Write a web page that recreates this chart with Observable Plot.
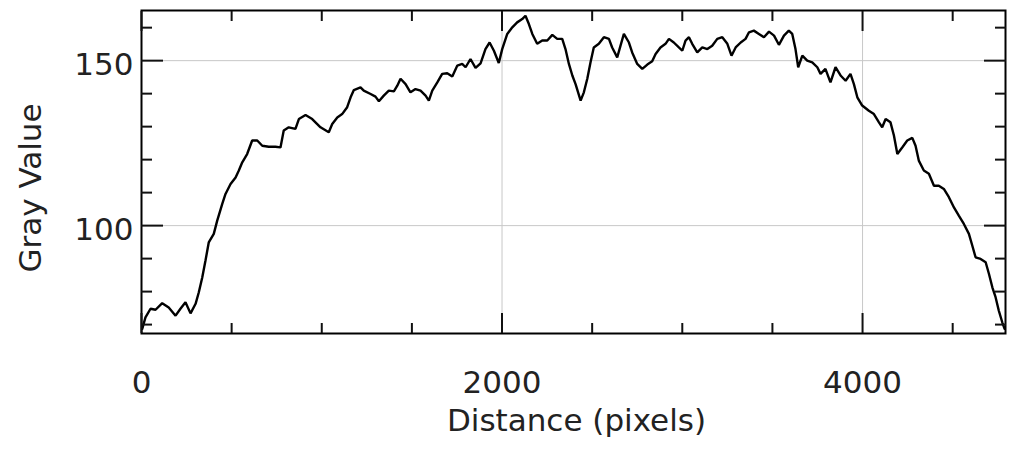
<!DOCTYPE html>
<html>
<head>
<meta charset="utf-8">
<script src="https://cdn.jsdelivr.net/npm/d3@7"></script>
<script src="https://cdn.jsdelivr.net/npm/@observablehq/plot@0.6"></script>
<style>
  html, body { margin: 0; padding: 0; background: #fff; }
</style>
</head>
<body>
<div id="chart"></div>
<script>
const distance = [4,22,50,78,115,151,189,216,244,272,300,318,337,355,373,401,420,448,466,494,522,540,559,586,614,642,670,706,743,771,789,817,854,873,910,947,993,1039,1058,1086,1113,1141,1160,1178,1215,1233,1271,1298,1317,1344,1372,1400,1419,1437,1465,1492,1520,1548,1576,1594,1613,1641,1668,1696,1724,1752,1779,1798,1825,1853,1881,1908,1931,1955,1982,2001,2029,2057,2084,2112,2130,2149,2168,2195,2223,2251,2279,2306,2334,2352,2371,2390,2408,2436,2454,2473,2491,2509,2537,2565,2593,2611,2639,2657,2676,2704,2722,2750,2778,2806,2833,2852,2879,2907,2926,2953,2981,3000,3018,3037,3055,3083,3111,3139,3166,3194,3222,3250,3273,3296,3324,3351,3370,3397,3425,3453,3481,3509,3536,3564,3591,3610,3628,3643,3666,3693,3721,3749,3767,3794,3822,3850,3878,3906,3933,3952,3971,3998,4035,4063,4091,4109,4128,4155,4174,4193,4220,4248,4276,4294,4312,4340,4368,4396,4423,4451,4479,4507,4534,4562,4590,4609,4627,4655,4683,4701,4720,4738,4756,4775,4788];
const gray = [68.7,72.2,74.8,74.5,76.5,75.2,72.7,74.8,76.8,73.4,76.3,79.8,84.3,89.4,94.9,97.5,101.5,106.6,109.6,112.6,114.6,116.7,119.2,121.7,125.8,125.8,124.2,123.9,123.9,123.7,128.8,129.8,129.3,132.3,133.5,132.3,129.8,128.3,130.8,132.8,133.8,135.9,138.9,141.1,141.9,140.9,139.9,139.1,137.7,139.4,140.9,140.7,142.4,144.5,142.9,140.4,141.4,140.9,139.4,137.9,140.9,143.4,146.0,146.2,145.2,148.5,149.0,148.0,150.5,147.8,149.2,153.5,155.5,153.0,149.3,153.5,158.1,160.1,161.6,162.6,163.6,161.1,158.1,155.1,156.1,156.1,157.8,156.6,156.6,153.5,149.0,145.5,142.9,137.9,140.4,144.5,149.5,154.0,155.1,157.1,156.6,154.0,151.0,154.5,158.1,155.5,152.5,149.0,147.5,148.8,149.8,152.0,154.0,155.1,156.6,155.5,154.0,153.0,156.1,157.1,155.1,152.5,154.0,153.5,154.5,156.6,157.1,155.1,151.5,154.0,155.5,156.6,158.6,159.1,158.1,157.1,158.8,157.6,154.8,157.6,159.1,158.1,153.5,148.0,151.5,150.0,149.5,148.0,146.0,147.5,143.4,148.0,145.5,143.9,146.0,142.9,138.9,136.4,134.8,133.8,131.3,129.8,132.3,131.3,127.3,121.7,123.7,125.8,126.6,124.2,119.7,116.7,115.7,112.1,112.1,111.1,108.6,105.5,103.0,100.5,97.5,93.9,90.4,89.9,88.9,85.4,81.3,78.3,74.2,70.7,68.7];

const xMajorTicks = [0, 2000, 4000];
const xMinorTicks = [500, 1000, 1500, 2500, 3000, 3500, 4500];
const yMajorTicks = [100, 150];
const yMinorTicks = [70, 80, 90, 110, 120, 130, 140, 160];
const xTitle = "Distance (pixels)";
const yTitle = "Gray Value";

const data = distance.map((d, i) => ({distance: d, gray: gray[i]}));
const fmt = d => String(d);
const gridStyle = {stroke: "#c8c8c8", strokeOpacity: 1, strokeWidth: 1};
const textColor = "#222";

const chart = Plot.plot({
  width: 1015,
  height: 450,
  marginLeft: 141,
  marginRight: 10,
  marginTop: 10,
  marginBottom: 117,
  style: {fontFamily: "DejaVu Sans", fontSize: "31px", background: "#fff", color: "#111"},
  x: {domain: [0, 4793]},
  y: {domain: [67.3, 165.2]},
  marks: [
    Plot.gridX(xMajorTicks.slice(1), gridStyle),
    Plot.gridY(yMajorTicks, gridStyle),
    Plot.line(data, {x: "distance", y: "gray", stroke: "#000", strokeWidth: 2.4, strokeLinejoin: "miter"}),
    Plot.frame({stroke: "#000", strokeWidth: 2}),
    // inward ticks
    Plot.axisX(xMajorTicks, {anchor: "bottom", tickSize: -20, tickFormat: () => "", label: null, strokeWidth: 2}),
    Plot.axisX(xMinorTicks, {anchor: "bottom", tickSize: -10, tickFormat: () => "", label: null, strokeWidth: 2}),
    Plot.axisX(xMajorTicks, {anchor: "top", tickSize: -20, tickFormat: () => "", label: null, strokeWidth: 2}),
    Plot.axisX(xMinorTicks, {anchor: "top", tickSize: -10, tickFormat: () => "", label: null, strokeWidth: 2}),
    Plot.axisY(yMajorTicks, {anchor: "left", tickSize: -22, tickFormat: () => "", label: null, strokeWidth: 2}),
    Plot.axisY(yMinorTicks, {anchor: "left", tickSize: -11, tickFormat: () => "", label: null, strokeWidth: 2}),
    Plot.axisY(yMajorTicks, {anchor: "right", tickSize: -22, tickFormat: () => "", label: null, strokeWidth: 2}),
    Plot.axisY(yMinorTicks, {anchor: "right", tickSize: -11, tickFormat: () => "", label: null, strokeWidth: 2}),
    // tick labels
    Plot.axisX(xMajorTicks, {anchor: "bottom", tickSize: 0, tickPadding: 37, tickFormat: fmt, label: null, fill: textColor}),
    Plot.axisY(yMajorTicks, {anchor: "left", tickSize: 0, tickPadding: 8, dy: 4, tickFormat: fmt, label: null, fill: textColor}),
    // titles
    Plot.text([xTitle], {text: d => d, frameAnchor: "bottom", textAnchor: "middle", lineAnchor: "bottom", dy: 97, dx: 3, fontSize: 31, fill: textColor}),
    Plot.text([yTitle], {text: d => d, frameAnchor: "left", textAnchor: "middle", lineAnchor: "bottom", rotate: -90, dx: -101, dy: 16, fontSize: 31, fill: textColor})
  ]
});
document.getElementById("chart").appendChild(chart);
</script>
</body>
</html>
